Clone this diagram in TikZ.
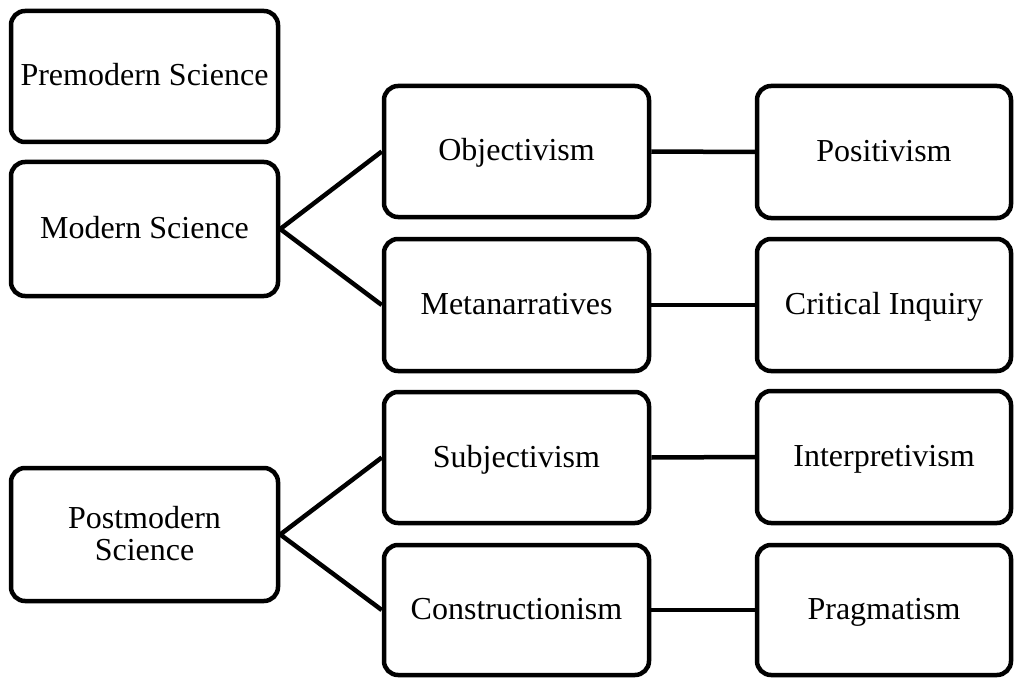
\documentclass[tikz,border=0pt]{standalone}
\usepackage{fontspec}
\setmainfont{Liberation Serif}
\begin{document}
\begin{tikzpicture}[x=1pt,y=-1pt,
  box/.style={draw, line width=4.5pt, rounded corners=14pt, align=center,
    inner sep=0pt, text height=24pt, text depth=5pt,
    font=\fontsize{32}{32}\selectfont},
  colL/.style={box, minimum width=267pt},
  colM/.style={box, minimum width=265pt},
  colR/.style={box, minimum width=254pt},
  link/.style={line width=4.5pt}]
\useasboundingbox (0,0) rectangle (1014,679);

% left column: eras of science
\node[colL, minimum height=131pt] (pre)    at (144.5,76.5) {Premodern Science};
\node[colL, minimum height=134pt] (modern) at (144.5,229)  {Modern Science};
\node[colL, minimum height=133pt, text height=56pt] (post) at (144.5,534.5) {Postmodern\\Science};

% middle column
\node[colM, minimum height=131pt] (obj)  at (516.5,151.5) {Objectivism};
\node[colM, minimum height=132pt] (meta) at (516.5,305)   {Metanarratives};
\node[colM, minimum height=131pt] (subj) at (516.5,457.5) {Subjectivism};
\node[colM, minimum height=130pt] (cons) at (516.5,610)   {Constructionism};

% right column
\node[colR, minimum height=132pt] (pos)    at (884,152) {Positivism};
\node[colR, minimum height=132pt] (crit)   at (884,305) {Critical Inquiry};
\node[colR, minimum height=132pt] (interp) at (884,457) {Interpretivism};
\node[colR, minimum height=130pt] (prag)   at (884,610) {Pragmatism};

% connectors
\draw[link] (obj.west) -- (modern.east) -- (meta.west);
\draw[link] (subj.west) -- (post.east) -- (cons.west);
\draw[link] (obj.east)  -- (pos.west);
\draw[link] (meta.east) -- (crit.west);
\draw[link] (subj.east) -- (interp.west);
\draw[link] (cons.east) -- (prag.west);
\end{tikzpicture}
\end{document}
